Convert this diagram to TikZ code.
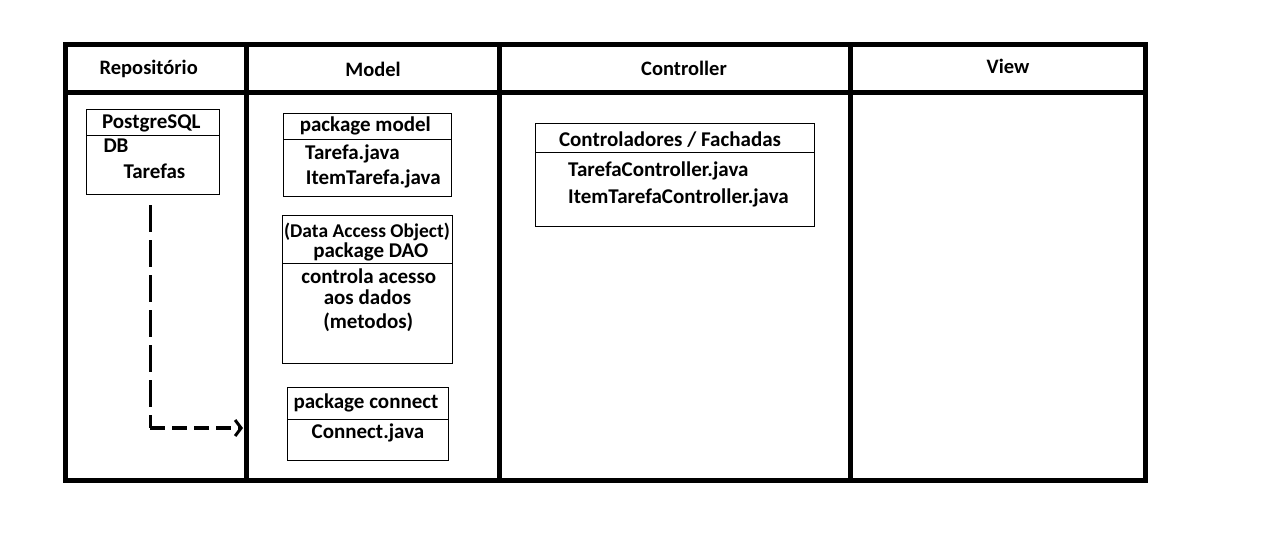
\documentclass[tikz,border=0pt]{standalone}
\usepackage{fontspec}
\setmainfont{Carlito}
\usetikzlibrary{arrows.meta}
\begin{document}
\begin{tikzpicture}[x=1pt,y=-1pt,
  frame/.style={line width=5pt},
  box/.style={draw, line width=1pt, inner sep=0pt, anchor=north west},
  txt/.style={font=\bfseries\fontsize{21}{23}\selectfont, inner sep=0pt, anchor=base},
  htxt/.style={txt, font=\bfseries\fontsize{20.5}{22}\selectfont},
  stxt/.style={txt, font=\bfseries\fontsize{19.5}{21}\selectfont},
  ltxt/.style={txt, anchor=base west},
  dl/.style={line width=3.5pt},
]
\useasboundingbox (0,0) rectangle (1261,546);
\fill[white] (0,0) rectangle (1261,546);
% table frame
\draw[frame] (65,44.5) rectangle (1145,480);
\draw[frame] (65,92.5) -- (1145,92.5);
\foreach \x in {246.5,499,850.5} \draw[frame] (\x,44.5) -- (\x,480);
% headers
\node[htxt] (h1) at (148.7,74.5) {Repositório};
\node[htxt] (h2) at (373,76.5) {Model};
\node[htxt] (h3) at (684,75) {Controller};
\node[htxt] (h4) at (1008,73.5) {View};
% PostgreSQL box
\node[box, minimum width=133pt, minimum height=85pt] (pg) at (86,109) {};
\draw[line width=1pt] (pg.west |- 0,135) -- (pg.east |- 0,135);
\node[txt] (pgt) at (151.3,128) {PostgreSQL};
\node[ltxt] (pg1) at (103.3,152.5) {DB};
\node[ltxt] (pg2) at (123.3,178) {Tarefas};
% package model
\node[box, minimum width=168pt, minimum height=83pt] (pm) at (283,113) {};
\draw[line width=1pt] (pm.west |- 0,139) -- (pm.east |- 0,139);
\node[txt] (pmt) at (365.3,131.5) {package model};
\node[ltxt] (pm1) at (305,159) {Tarefa.java};
\node[ltxt] (pm2) at (305.7,184.3) {ItemTarefa.java};
% DAO
\node[box, minimum width=170pt, minimum height=148pt] (dao) at (282,215) {};
\draw[line width=1pt] (dao.west |- 0,263) -- (dao.east |- 0,263);
\node[stxt] (dt1) at (367,237.7) {(Data Access Object)};
\node[txt] (dt2) at (370.8,257.3) {package DAO};
\node[txt] (d1) at (368.8,283.3) {controla acesso};
\node[txt] (d2) at (367.5,304) {aos dados};
\node[txt] (d3) at (368.3,328.3) {(metodos)};
% connect
\node[box, minimum width=161pt, minimum height=73pt] (pc) at (287,387) {};
\draw[line width=1pt] (pc.west |- 0,419) -- (pc.east |- 0,419);
\node[txt] (pct) at (366,408.3) {package connect};
\node[txt] (pc1) at (368,438.3) {Connect.java};
% controller box
\node[box, minimum width=279pt, minimum height=103pt] (cb) at (535,123) {};
\draw[line width=1pt] (cb.west |- 0,152.5) -- (cb.east |- 0,152.5);
\node[txt] (cbt) at (670,146) {Controladores / Fachadas};
\node[ltxt] (cb1) at (568,176) {TarefaController.java};
\node[ltxt] (cb2) at (568,203.3) {ItemTarefaController.java};
% dashed connector
\coordinate (s) at (150.3,205);
\coordinate (c) at (150.3,428);
\coordinate (tip) at (243,428);
\draw[dl, dash pattern=on 27pt off 8pt] (s) -- (c);
\draw[dl, dash pattern=on 15pt off 7pt, -{Straight Barb[length=6pt,width=16pt,line width=3pt]}] (c) -- (tip);
\end{tikzpicture}
\end{document}
